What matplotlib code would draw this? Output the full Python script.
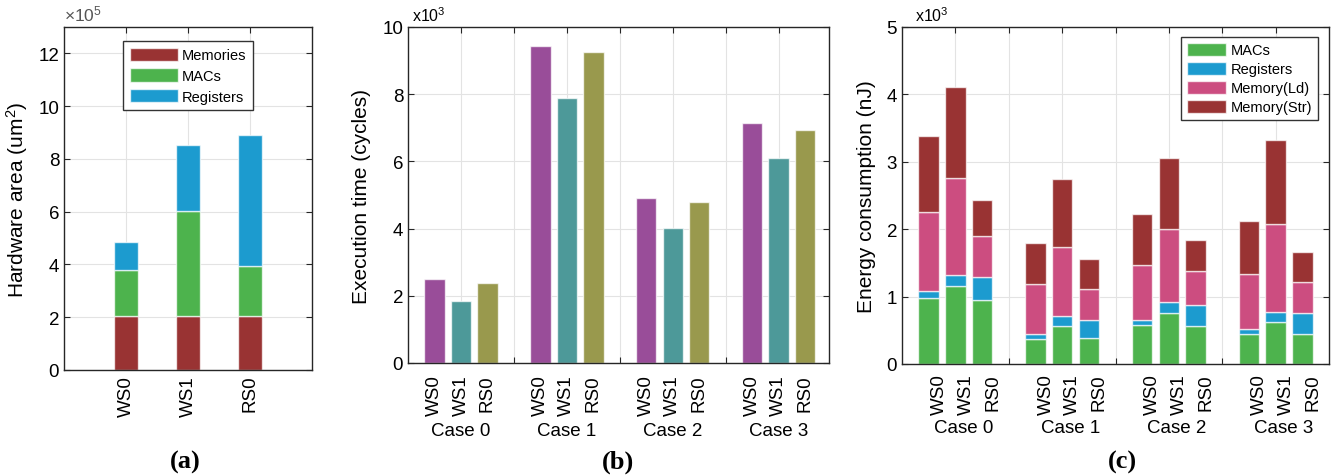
import numpy as np
import matplotlib
matplotlib.use('Agg')
import matplotlib.pyplot as plt

plt.rcParams['font.family'] = ['Liberation Sans', 'DejaVu Sans']
plt.rcParams['mathtext.fontset'] = 'custom'
plt.rcParams['mathtext.rm'] = 'Liberation Sans'
plt.rcParams['mathtext.it'] = 'Liberation Sans:italic'

# ---------------- data ----------------
arch = ['WS0', 'WS1', 'RS0']
cases = ['Case 0', 'Case 1', 'Case 2', 'Case 3']

# (a) hardware area (x1e5 um^2), stacked
area_mem = [2.05, 2.05, 2.05]
area_mac = [1.73, 3.97, 1.88]
area_reg = [1.09, 2.52, 4.99]

# (b) execution time (x1e3 cycles), one list per dataflow over cases
exec_ws0 = [2.50, 9.42, 4.91, 7.13]
exec_ws1 = [1.84, 7.88, 4.01, 6.10]
exec_rs0 = [2.39, 9.25, 4.78, 6.92]

# (c) energy (x1e3 nJ), bars ordered case0 WS0/WS1/RS0, case1 ...
en_mac = [0.98, 1.16, 0.95, 0.37, 0.56, 0.38, 0.58, 0.76, 0.56, 0.45, 0.63, 0.45]
en_reg = [0.10, 0.16, 0.34, 0.08, 0.15, 0.28, 0.08, 0.155, 0.315, 0.07, 0.14, 0.30]
en_ld = [1.17, 1.44, 0.61, 0.74, 1.03, 0.46, 0.81, 1.095, 0.505, 0.815, 1.30, 0.47]
en_str = [1.14, 1.35, 0.54, 0.61, 1.01, 0.44, 0.75, 1.05, 0.465, 0.785, 1.25, 0.44]

# ---------------- style ----------------
c_mem = '#993333'
c_mac = '#4DB34D'
c_reg = '#1C9BCF'
c_ld = '#CC4D80'
c_arch = ['#994D99', '#4D9999', '#99994D']
edge = (1, 1, 1, 0.7)
FS_TICK = 13.5
FS_LAB = 15

W, H = 1342, 477
fig = plt.figure(figsize=(W / 100, H / 100), dpi=100)


def add_ax(l, r, t, b):
    return fig.add_axes([l / W, (H - b) / H, (r - l) / W, (b - t) / H])


def style(ax):
    ax.grid(True, color='#E3E3E3', linewidth=0.8)
    ax.set_axisbelow(True)
    ax.tick_params(direction='in', top=True, right=True, length=4,
                   labelsize=FS_TICK, color='#262626')
    for s in ax.spines.values():
        s.set_linewidth(1.0)
        s.set_color('#262626')


# ---------------- (a) ----------------
ax = add_ax(64, 312, 28, 371)
x = np.arange(1, len(arch) + 1)
bw = 0.39
bot = np.zeros(len(arch))
for vals, col, lab in [(area_mem, c_mem, 'Memories'),
                       (area_mac, c_mac, 'MACs'),
                       (area_reg, c_reg, 'Registers')]:
    ax.bar(x, vals, bw, bottom=bot, color=col, edgecolor=edge,
           linewidth=1, label=lab)
    bot += np.array(vals)
ax.set_xlim(0, 4)
ax.set_ylim(0, 13)
ax.set_yticks(np.arange(0, 13, 2))
ax.set_xticks(x)
ax.set_xticklabels(arch, rotation=90, fontsize=FS_TICK)
style(ax)
ax.set_ylabel('Hardware area (um$^2$)', fontsize=FS_LAB, labelpad=6)
ax.legend(loc='upper left', bbox_to_anchor=(0.238, 0.959), borderaxespad=0,
          fontsize=10.5, handlelength=3.3, handleheight=1.05,
          labelspacing=0.4, fancybox=False, framealpha=1,
          edgecolor='#333333', borderpad=0.45, handletextpad=0.3)
ax.text(0.0, 1.01, r'$\times10^5$', transform=ax.transAxes,
        fontsize=12.5, color='#555555', ha='left', va='bottom')
fig.text(185 / W, 1 - 462 / H, '(a)', family='Liberation Serif',
         fontweight='bold', fontsize=19, ha='center', va='center')

# ---------------- (b) ----------------
ax = add_ax(408, 829, 28, 364)
bw = 0.77
for j, vals in enumerate([exec_ws0, exec_ws1, exec_rs0]):
    pos = np.arange(len(cases)) * 4 + j + 1
    ax.bar(pos, vals, bw, color=c_arch[j], edgecolor=edge, linewidth=1)
ax.set_xlim(0, 15.9)
ax.set_ylim(0, 10)
ax.set_yticks(np.arange(0, 11, 2))
ax.set_xticks(np.arange(2, 15, 2))
ax.set_xticklabels([])
style(ax)
ax.set_ylabel('Execution time (cycles)', fontsize=FS_LAB, labelpad=8)
tr = ax.get_xaxis_transform()
for i, cs in enumerate(cases):
    for j, a in enumerate(arch):
        ax.text(i * 4 + j + 1, -0.033, a, transform=tr, rotation=90,
                ha='center', va='top', fontsize=FS_TICK)
    ax.text(i * 4 + 2, -0.2, cs, transform=tr, ha='center', va='center',
            fontsize=FS_TICK)
ax.text(0.01, 1.01, r'x10$^3$', transform=ax.transAxes,
        fontsize=11.5, ha='left', va='bottom')
fig.text(618 / W, 1 - 462 / H, '(b)', family='Liberation Serif',
         fontweight='bold', fontsize=19, ha='center', va='center')

# ---------------- (c) ----------------
ax = add_ax(902, 1329, 28, 365)
pos = np.array([i * 4 + j + 1 for i in range(len(cases)) for j in range(len(arch))])
bot = np.zeros(len(pos))
for vals, col, lab in [(en_mac, c_mac, 'MACs'),
                       (en_reg, c_reg, 'Registers'),
                       (en_ld, c_ld, 'Memory(Ld)'),
                       (en_str, c_mem, 'Memory(Str)')]:
    ax.bar(pos, vals, bw, bottom=bot, color=col, edgecolor=edge,
           linewidth=1, label=lab)
    bot += np.array(vals)
ax.set_xlim(0, 16)
ax.set_ylim(0, 5)
ax.set_yticks(np.arange(0, 6, 1))
ax.set_xticks(np.arange(2, 15, 2))
ax.set_xticklabels([])
style(ax)
ax.set_ylabel('Energy consumption (nJ)', fontsize=FS_LAB, labelpad=8)
tr = ax.get_xaxis_transform()
for i, cs in enumerate(cases):
    for j, a in enumerate(arch):
        ax.text(i * 4 + j + 1.4, -0.027, a, transform=tr, rotation=90,
                ha='center', va='top', fontsize=FS_TICK)
    ax.text(i * 4 + 2.3, -0.187, cs, transform=tr, ha='center', va='center',
            fontsize=FS_TICK)
ax.legend(loc='upper right', bbox_to_anchor=(0.974, 0.970), borderaxespad=0,
          fontsize=10.5, handlelength=2.7, handleheight=1.0,
          labelspacing=0.3, fancybox=False, framealpha=1,
          edgecolor='#333333', borderpad=0.4, handletextpad=0.3)
ax.text(0.03, 1.01, r'x10$^3$', transform=ax.transAxes,
        fontsize=11.5, ha='left', va='bottom')
fig.text(1122 / W, 1 - 462 / H, '(c)', family='Liberation Serif',
         fontweight='bold', fontsize=19, ha='center', va='center')

fig.savefig('out.png', dpi=100)
